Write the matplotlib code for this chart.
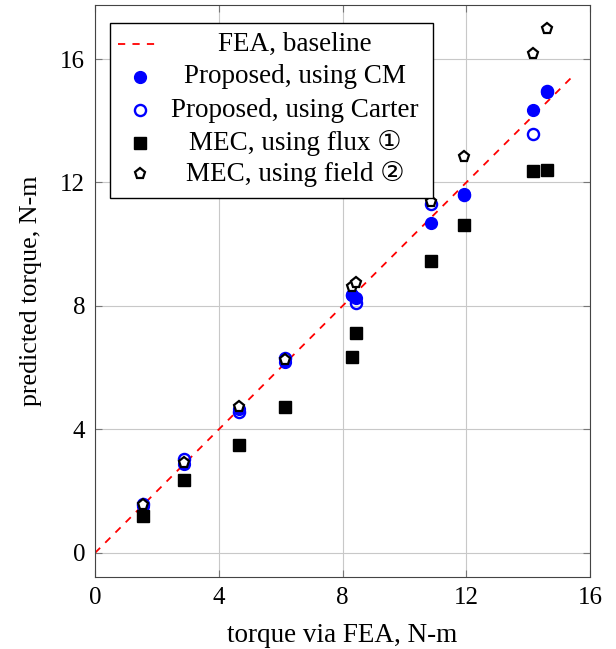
import matplotlib.pyplot as plt
from matplotlib.patches import Rectangle

plt.rcParams['font.family'] = ['Liberation Serif', 'DejaVu Sans']
plt.rcParams['font.size'] = 17

# torque values, N-m
fea = [1.56, 2.88, 4.66, 6.13, 8.31, 8.45, 10.86, 11.94, 14.15, 14.6]
cm = [1.53, 2.87, 4.65, 6.2, 8.36, 8.25, 10.68, 11.63, 14.34, 14.92]
carter = [1.58, 3.05, 4.56, 6.3, 8.35, 8.1, 11.29, 11.6, 13.56, 14.97]
flux = [1.18, 2.36, 3.49, 4.74, 6.36, 7.14, 9.47, 10.62, 12.38, 12.42]
field = [1.55, 2.9, 4.74, 6.25, 8.63, 8.76, 11.36, 12.84, 16.17, 16.96]
baseline = [0, 15.5]

labels = ['FEA, baseline', 'Proposed, using CM', 'Proposed, using Carter',
          'MEC, using flux \u2460', 'MEC, using field \u2461']
ticks = [0, 4, 8, 12, 16]

fig = plt.figure(figsize=(6.16, 6.49), dpi=100)
ax = fig.add_axes([95 / 616, 72 / 649, 495 / 616, 572 / 649])

styles = [
    dict(ls=(0, (4, 4)), color='red', lw=1.3),
    dict(ls='none', marker='o', ms=8.5, mfc='blue', mec='blue'),
    dict(ls='none', marker='o', ms=8, mfc='none', mec='blue', mew=1.7),
    dict(ls='none', marker='s', ms=9, mfc='black', mec='black'),
    dict(ls='none', marker='p', ms=8, mfc='white', mec='black', mew=1.6),
]

ax.plot(baseline, baseline, **styles[0])
ax.plot(fea, cm, **styles[1])
ax.plot(fea, carter, **styles[2])
ax.plot(fea, flux, **styles[3])
ax.plot(fea, field, **styles[4])

ax.set_xlim(0, 16)
ax.set_ylim(-0.78, 17.75)
ax.set_xticks(ticks)
ax.set_yticks(ticks)
ax.grid(True, color='#c8c8c8', lw=0.8)
ax.set_axisbelow(True)
ax.tick_params(direction='in', length=5, color='#777777', top=True, right=True, pad=7,
               labelsize=18)
for s in ax.spines.values():
    s.set_color('#444444')

ax.set_xlabel('torque via FEA, N-m', fontsize=19.5, labelpad=10)
ax.set_ylabel('predicted torque, N-m', fontsize=18.7, labelpad=13)

# legend box with centred labels
ax.add_patch(Rectangle((0.0303, 0.6626), 0.6525, 0.306, transform=ax.transAxes,
                       fc='white', ec='black', lw=1, zorder=5))
rows = [0.9318, 0.8747, 0.8164, 0.7582, 0.7038]
for i, (lab, y) in enumerate(zip(labels, rows)):
    if i == 0:
        ax.plot([0.0465, 0.1313], [y, y], transform=ax.transAxes, zorder=6, **styles[0])
    else:
        ax.plot([0.0909], [y], transform=ax.transAxes, zorder=6, **styles[i])
    ax.text(0.404, y, lab, transform=ax.transAxes, ha='center', va='center',
            fontsize=19.5, zorder=6)

fig.savefig('out.png', dpi=100)
